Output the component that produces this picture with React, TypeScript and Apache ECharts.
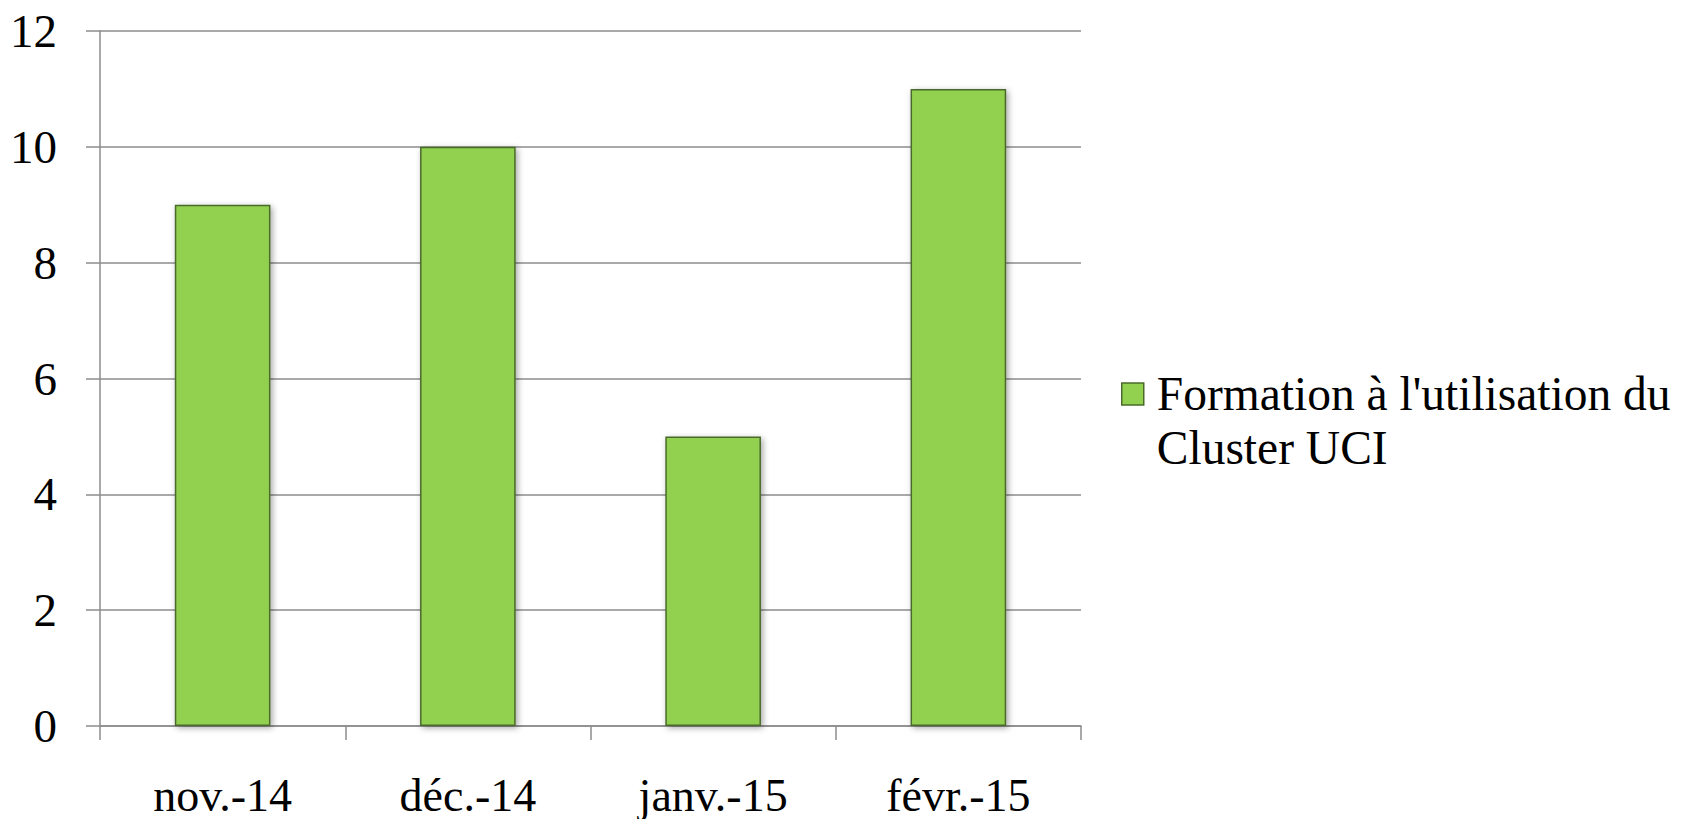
import React, { useEffect, useRef } from "react";
import * as echarts from "echarts";

const categories = ["nov.-14", "déc.-14", "janv.-15", "févr.-15"];
const seriesName = "Formation à l'utilisation du Cluster UCI";
const legendLines = ["Formation à l'utilisation du", "Cluster UCI"];
const values = [9, 10, 5, 11];
const yTicks = { min: 0, max: 12, interval: 2 };

const FONT = "Liberation Serif";

export default function App() {
  const ref = useRef<HTMLDivElement>(null);
  useEffect(() => {
    if (!ref.current) return;
    const chart = echarts.init(ref.current, undefined, { renderer: "svg" });
    chart.setOption({
      animation: false,
      backgroundColor: "#ffffff",
      textStyle: { fontFamily: FONT },
      grid: { left: 100, right: 606, top: 31, bottom: 93, containLabel: false },
      legend: {
        data: [seriesName],
        orient: "vertical",
        left: 1121,
        top: 313,
        padding: 0,
        icon: "path://M0,0h22v22h-22z",
        symbolKeepAspect: true,
        itemWidth: 38,
        itemHeight: 22,
        formatter: () => "\n" + legendLines.join("\n"),
        textStyle: {
          fontFamily: FONT,
          fontSize: 47.5,
          color: "#000",
          lineHeight: 54,
        },
        itemStyle: { color: "#92D050", borderColor: "#4a6b2a", borderWidth: 1.5 },
      },
      xAxis: {
        type: "category",
        data: categories,
        boundaryGap: true,
        axisLine: { show: true, lineStyle: { color: "#8c8c8c", width: 1.5 } },
        axisTick: { show: true, length: 14, alignWithLabel: false, lineStyle: { color: "#8c8c8c", width: 1.5 } },
        axisLabel: { fontFamily: FONT, fontSize: 46, color: "#000", margin: 46 },
      },
      yAxis: {
        type: "value",
        min: yTicks.min,
        max: yTicks.max,
        interval: yTicks.interval,
        axisLine: { show: true, lineStyle: { color: "#8c8c8c", width: 1.5 } },
        axisTick: { show: true, length: 14, lineStyle: { color: "#8c8c8c", width: 1.5 } },
        splitLine: { show: true, lineStyle: { color: "#8c8c8c", width: 1.5 } },
        axisLabel: { fontFamily: FONT, fontSize: 47, color: "#000", margin: 43 },
      },
      series: [
        {
          name: seriesName,
          type: "bar",
          data: values,
          barWidth: "39%",
          itemStyle: {
            color: "#92D050",
            borderColor: "#4a6b2a",
            borderWidth: 1.5,
            shadowColor: "rgba(0,0,0,0.35)",
            shadowBlur: 6,
            shadowOffsetX: 2,
            shadowOffsetY: 2,
          },
        },
      ],
    });
    return () => chart.dispose();
  }, []);
  return (
    <div
      ref={ref}
      style={{ position: "absolute", left: 0, top: 0, width: 1687, height: 819 }}
    />
  );
}
